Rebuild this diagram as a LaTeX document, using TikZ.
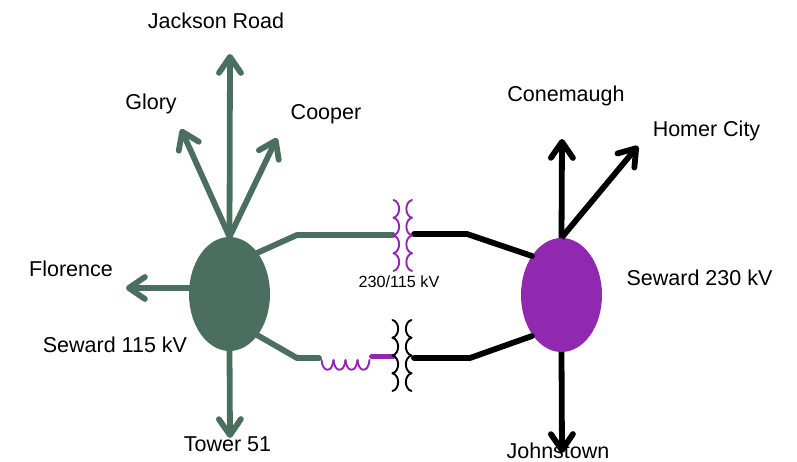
\documentclass[tikz,border=0pt]{standalone}
\usepackage{fontspec}
\setmainfont{Liberation Sans}
\usetikzlibrary{arrows.meta,shapes.geometric}
\definecolor{grn}{HTML}{4A6F60}
\definecolor{pur}{HTML}{9029B0}
\tikzset{
  x=1pt,y=-1pt,
  bus/.style={ellipse,minimum width=81pt,minimum height=114pt,inner sep=0pt},
  line/.style={line width=5.8pt,line join=round},
  feeder/.style={line,-{Straight Barb[length=16pt,width=22pt,line width=5.8pt,round]}},
  lab/.style={font=\fontsize{21.5pt}{24pt}\selectfont,inner sep=0pt,text=black},
  coil/.style={line width=1.9pt,line cap=round},
}
\newcommand{\coilset}[4]{%
  \foreach \k in {0,1,2,3}{%
    \draw[coil,#3] ({#1},{#4+\k*17.75})
      .. controls ({#1+#2*7.5},{#4+\k*17.75+2}) and ({#1+#2*7.5},{#4+\k*17.75+15.75}) .. ({#1},{#4+(\k+1)*17.75});
  }}
\begin{document}
\begin{tikzpicture}
\useasboundingbox (0,0) rectangle (797,462);
\node[bus,fill=grn] (g) at (229.5,294) {};
\node[bus,fill=pur] (p) at (561.5,295) {};
\coordinate (gj) at (230,54);
\coordinate (gl) at (181,129);
\coordinate (gc) at (277,138);
\coordinate (gf) at (126,288);
\coordinate (gt) at (230,438);
\coordinate (pc) at (562,139);
\coordinate (ph) at (638,146);
\coordinate (pj) at (562,453);
\coordinate (a1) at (297,235);
\coordinate (a2) at (393,235);
\coordinate (b1) at (297,358);
\coordinate (b2) at (319,358);
\coordinate (c1) at (372,356.5);
\coordinate (c2) at (393,356.5);
\coordinate (d1) at (414,234);
\coordinate (d2) at (467,234);
\coordinate (e1) at (414,358);
\coordinate (e2) at (470,358);
\draw[feeder,grn] (g.north) -- (gj);
\draw[feeder,grn] (g.north) -- (gl);
\draw[feeder,grn] (g.north) -- (gc);
\draw[feeder,grn] (190,288) -- (gf);
\draw[feeder,grn] (g.south) -- (gt);
\draw[feeder] (p.north) -- (pc);
\draw[feeder] (p.north) -- (ph);
\draw[feeder] (p.south) -- (pj);
\draw[line,grn,line cap=round] (257,253) -- (a1) -- (a2);
\draw[line,grn,line cap=round] (257,335) -- (b1) -- (b2);
\draw[line,pur,line cap=round] (c1) -- (c2);
\draw[line,line cap=round] (d1) -- (d2) -- (532,256);
\draw[line,line cap=round] (e1) -- (e2) -- (532,336);
\coilset{393.5}{1}{pur}{200}
\coilset{412}{-1}{pur}{200}
\coilset{392.5}{1}{black}{320}
\coilset{411.5}{-1}{black}{320}
\foreach \k in {0,1,2,3}{
  \draw[coil,pur] ({321.5+\k*12},360) .. controls ({321.5+\k*12+1},373) and ({321.5+\k*12+11},373) .. ({321.5+(\k+1)*12},360);
}
\node[lab] (t1) at (216,21) {Jackson Road};
\node[lab] (t2) at (151,103.5) {Glory};
\node[lab] (t3) at (326,114.5) {Cooper};
\node[lab] (t4) at (71,268.5) {Florence};
\node[lab] (t5) at (115,345) {Seward 115 kV};
\node[lab] (t6) at (227.5,444) {Tower 51};
\node[lab] (t7) at (566,96) {Conemaugh};
\node[lab] (t8) at (706.5,131) {Homer City};
\node[lab] (t9) at (699.5,278) {Seward 230 kV};
\node[lab] (t10) at (558,451) {Johnstown};
\node[font=\fontsize{16.2pt}{18pt}\selectfont,inner sep=0pt] (t11) at (399,282) {230/115 kV};
\end{tikzpicture}
\end{document}
